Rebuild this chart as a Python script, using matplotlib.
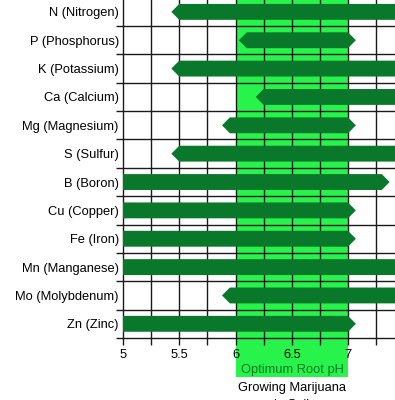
import matplotlib
matplotlib.use("Agg")
import matplotlib.pyplot as plt
from matplotlib.patches import Polygon, Rectangle
import matplotlib.transforms as mtransforms

plt.rcParams['font.family'] = ['Liberation Sans', 'DejaVu Sans']

nutrients = ["N (Nitrogen)", "P (Phosphorus)", "K (Potassium)", "Ca (Calcium)",
             "Mg (Magnesium)", "S (Sulfur)", "B (Boron)", "Cu (Copper)",
             "Fe (Iron)", "Mn (Manganese)", "Mo (Molybdenum)", "Zn (Zinc)"]
range_start = [5.5, 6.1, 5.5, 6.25, 5.95, 5.5, 5.0, 5.0, 5.0, 5.0, 5.95, 5.0]
range_end = [8.0, 7.0, 8.0, 8.0, 7.0, 8.0, 7.3, 7.0, 7.0, 8.0, 8.0, 7.0]
x_ticks = [5, 5.5, 6, 6.5, 7]
x_tick_labels = ["5", "5.5", "6", "6.5", "7"]
optimum_low, optimum_high = 6.0, 7.0

DARK = '#0a782b'
BRIGHT = '#27f34a'

fig = plt.figure(figsize=(3.95, 4.0), dpi=100)
# axes extends slightly past the figure on the right and top (cropped chart)
ax = fig.add_axes([123/395, 62/400, (123 + 2.5*112.5)/395 - 123/395, 340.3/400])
xmin, xmax = 5.0, 7.5
n = len(nutrients)
ax.set_xlim(xmin, xmax)
ax.set_ylim(n, 0)

# optimum band (extends below the axis over the tick labels)
trans = mtransforms.blended_transform_factory(ax.transData, ax.transAxes)
band_bottom = ((400 - 377) / 400 - 62/400) / (340.3/400)
ax.add_patch(Rectangle((optimum_low, band_bottom), optimum_high - optimum_low,
                       1 - band_bottom, transform=trans, facecolor=BRIGHT,
                       edgecolor='none', zorder=0, clip_on=False))

# grid
for v in [5 + 0.25*k for k in range(1, 10)]:
    ax.axvline(v, color='#1a1a1a', lw=1.0, zorder=1)
for r in range(1, n):
    ax.axhline(r, color='#1a1a1a', lw=1.0, zorder=1)

# bars with arrow-shaped ends
h = 0.28
cap = 0.07
for i, (s, e) in enumerate(zip(range_start, range_end)):
    yc = i + 0.5
    pts = []
    if s <= xmin:
        pts += [(xmin, yc + h), (xmin, yc - h)]
    else:
        pts += [(s, yc + h), (s - cap, yc), (s, yc - h)]
    pts += [(e, yc - h), (e + cap, yc), (e, yc + h)]
    ax.add_patch(Polygon(pts, closed=True, facecolor=DARK, edgecolor='none', zorder=3))

ax.set_yticks([i + 0.5 for i in range(n)])
ax.set_yticklabels(nutrients, fontsize=9.3)
ax.tick_params(axis='y', length=0, pad=3)
ax.set_yticks(list(range(1, n + 1)), minor=True)
ax.tick_params(axis='y', which='minor', length=5, width=1, color='#1a1a1a')

ax.set_xticks(x_ticks)
ax.set_xticklabels(x_tick_labels, fontsize=9.3)
ax.set_xticks([5 + 0.25*k for k in range(0, 10)], minor=True)
ax.tick_params(axis='x', which='both', length=5, width=1, color='#1a1a1a', pad=3)

for side in ['top', 'right']:
    ax.spines[side].set_visible(False)
for side in ['left', 'bottom']:
    ax.spines[side].set_color('#1a1a1a')
    ax.spines[side].set_linewidth(1.0)

fig.text(292/395, 1 - 370/400, "Optimum Root pH", ha='center', va='center',
         fontsize=9.3, color=DARK)
fig.text(292/395, 1 - 388/400, "Growing Marijuana", ha='center', va='center',
         fontsize=9.3, color='black')
fig.text(292/395, 1 - 405/400, "in Soil", ha='center', va='center',
         fontsize=9.3, color='black')

fig.savefig("out.png", dpi=100)
